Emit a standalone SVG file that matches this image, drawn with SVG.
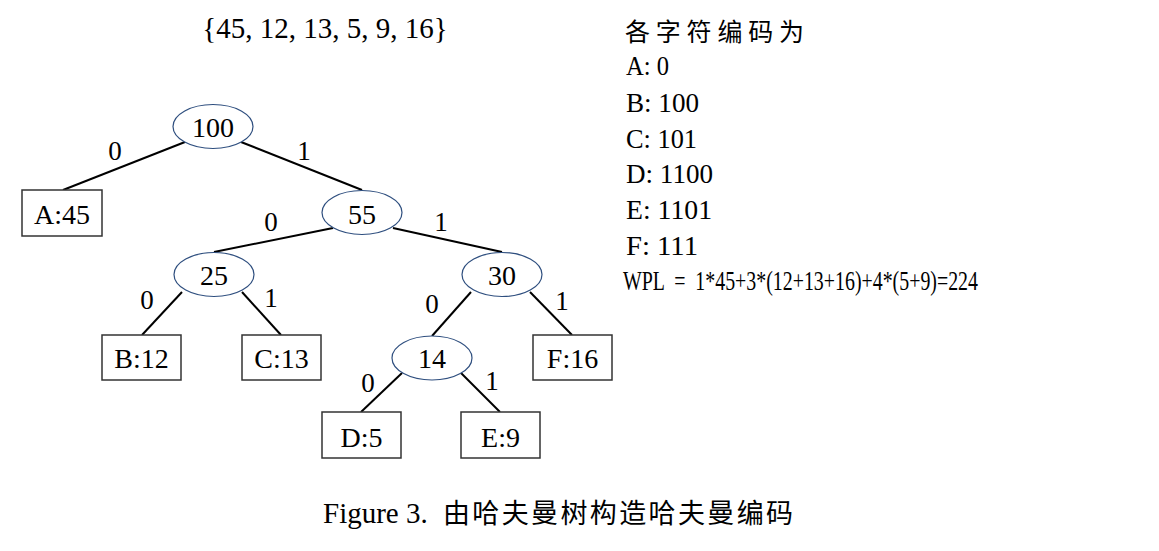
<svg xmlns="http://www.w3.org/2000/svg" width="1159" height="551" viewBox="0 0 1159 551">
<style>
.t{font-family:"Liberation Serif","Times New Roman",serif;font-size:28px;fill:#000;text-anchor:middle}
.lb{font-family:"Liberation Serif","Times New Roman",serif;font-size:27px;fill:#000;text-anchor:middle}
.r{font-family:"Liberation Serif","Noto Sans CJK SC",serif;font-size:28px;fill:#000;white-space:pre}
.cj{font-family:"Noto Sans CJK SC",sans-serif;font-size:25px;fill:#000}
.e{fill:#fff;stroke:#2f4f7f;stroke-width:1.2}
.b{fill:#fff;stroke:#333;stroke-width:1.5}
.c line{stroke:#000;stroke-width:2}
</style>
<rect width="1159" height="551" fill="#fff"/>
<text class="t" x="325" y="38" font-size="29" style="font-size:29px">{45, 12, 13, 5, 9, 16}</text>
<g class="c" id="connectors">
<line x1="185" y1="142" x2="63" y2="190"/>
<line x1="241" y1="142" x2="362" y2="190"/>
<line x1="333" y1="228" x2="214" y2="252"/>
<line x1="393" y1="228" x2="502" y2="252"/>
<line x1="182" y1="292" x2="142" y2="335"/>
<line x1="242" y1="292" x2="281" y2="335"/>
<line x1="471" y1="292" x2="432" y2="336"/>
<line x1="530" y1="292" x2="572" y2="335"/>
<line x1="402" y1="373" x2="361" y2="412"/>
<line x1="461" y1="373" x2="500" y2="412"/>
</g>
<g id="edge-labels">
<text class="lb" x="115" y="160">0</text>
<text class="lb" x="304" y="160">1</text>
<text class="lb" x="271" y="231">0</text>
<text class="lb" x="441" y="231">1</text>
<text class="lb" x="147" y="309">0</text>
<text class="lb" x="271" y="307">1</text>
<text class="lb" x="432" y="313">0</text>
<text class="lb" x="562" y="310">1</text>
<text class="lb" x="368" y="392">0</text>
<text class="lb" x="492" y="390">1</text>
</g>
<g id="n100"><ellipse class="e" cx="213" cy="126.5" rx="40" ry="22"/><text class="t" x="213" y="137">100</text></g>
<g id="n55"><ellipse class="e" cx="362" cy="212.5" rx="40" ry="22"/><text class="t" x="362" y="224">55</text></g>
<g id="n25"><ellipse class="e" cx="214" cy="274.5" rx="40" ry="22"/><text class="t" x="214" y="285">25</text></g>
<g id="n30"><ellipse class="e" cx="502" cy="274.5" rx="40" ry="22"/><text class="t" x="502" y="285">30</text></g>
<g id="n14"><ellipse class="e" cx="432" cy="358" rx="40" ry="22"/><text class="t" x="432" y="368">14</text></g>
<g id="nA"><rect class="b" x="22" y="190" width="80" height="46"/><text class="t" x="62" y="224">A:45</text></g>
<g id="nB"><rect class="b" x="102" y="335" width="79" height="45"/><text class="t" x="141.5" y="368">B:12</text></g>
<g id="nC"><rect class="b" x="242" y="335" width="79" height="45"/><text class="t" x="281.5" y="368">C:13</text></g>
<g id="nF"><rect class="b" x="533" y="335" width="79" height="45"/><text class="t" x="572.5" y="368">F:16</text></g>
<g id="nD"><rect class="b" x="322" y="412" width="79" height="46"/><text class="t" x="361.5" y="447">D:5</text></g>
<g id="nE"><rect class="b" x="461" y="412" width="79" height="46"/><text class="t" x="500.5" y="447">E:9</text></g>
<g id="codes">
<text class="cj" x="625" y="41" textLength="179" lengthAdjust="spacing">各字符编码为</text>
<text class="r" x="626" y="75" textLength="43" lengthAdjust="spacingAndGlyphs">A: 0</text>
<text class="r" x="626" y="112" textLength="73" lengthAdjust="spacingAndGlyphs">B: 100</text>
<text class="r" x="626" y="148" textLength="71" lengthAdjust="spacingAndGlyphs">C: 101</text>
<text class="r" x="626" y="183" textLength="87" lengthAdjust="spacingAndGlyphs">D: 1100</text>
<text class="r" x="626" y="219" textLength="86" lengthAdjust="spacingAndGlyphs">E: 1101</text>
<text class="r" x="626" y="255" textLength="72" lengthAdjust="spacingAndGlyphs">F: 111</text>
<text class="r" x="623" y="290" textLength="355" lengthAdjust="spacingAndGlyphs">WPL  =  1*45+3*(12+13+16)+4*(5+9)=224</text>
</g>
<g id="caption">
<text x="323" y="523" font-family="'Liberation Serif',serif" font-size="29">Figure 3.</text>
<text x="443" y="523" font-family="'Noto Sans CJK SC',sans-serif" font-size="27" textLength="350" lengthAdjust="spacing">由哈夫曼树构造哈夫曼编码</text>
</g>
</svg>
